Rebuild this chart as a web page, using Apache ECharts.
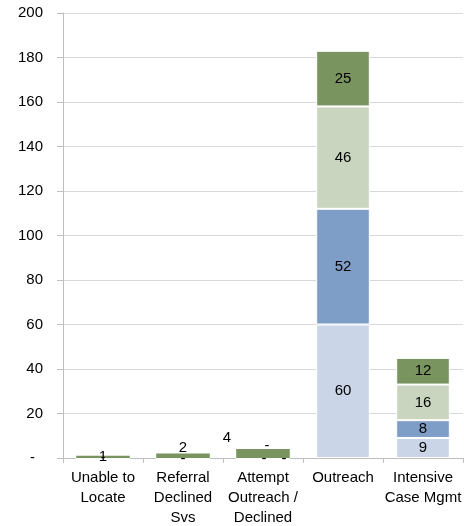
<!DOCTYPE html>
<html>
<head>
<meta charset="utf-8">
<style>
html,body{margin:0;padding:0;background:#fff;}
#chart{width:464px;height:526px;}
</style>
<script src="https://cdn.jsdelivr.net/npm/echarts@6/dist/echarts.min.js"></script>
</head>
<body>
<div id="chart"></div>
<script>
var categories = ['Unable to\nLocate', 'Referral\nDeclined\nSvs', 'Attempt\nOutreach /\nDeclined', 'Outreach', 'Intensive\nCase Mgmt'];
var seriesA = [0, 0, 0, 60, 9];
var seriesB = [0, 0, 0, 52, 8];
var seriesC = [0, 0, 0, 46, 16];
var seriesD = [1, 2, 4, 25, 12];
var yMin = 0, yMax = 200, yInterval = 20;

var colors = ['#cad6e8', '#7f9ec7', '#c9d5bf', '#7a9460'];
var allSeries = [seriesA, seriesB, seriesC, seriesD];
var FONT = 'Liberation Sans, Arial, sans-serif';

// label placement tweaks for the crowded small bars: [seriesIndex]-[categoryIndex]
var labelTweaks = {
  '0-0': {show: true, offset: [0, 0]},
  '3-0': {show: true, offset: [0, 0]},
  '0-1': {show: true, offset: [0, 1]},
  '3-1': {show: true, offset: [0, -8]},
  '0-2': {show: true, offset: [1, 1]},
  '1-2': {show: true, offset: [21, 1]},
  '2-2': {show: true, offset: [4, -12]},
  '3-2': {show: true, offset: [-36, -16]}
};

var series = allSeries.map(function (vals, si) {
  return {
    type: 'bar',
    stack: 'total',
    barCategoryGap: '33%',
    itemStyle: {color: colors[si], borderColor: '#ffffff', borderWidth: 1},
    label: {
      show: true,
      position: 'inside',
      color: '#000',
      fontSize: 15,
      fontFamily: FONT,
      formatter: function (p) { return p.value === 0 ? '-' : String(p.value); }
    },
    data: vals.map(function (v, ci) {
      var t = labelTweaks[si + '-' + ci];
      var item = {value: v};
      if (t) {
        item.label = {show: t.show, offset: t.offset};
      } else if (v === 0) {
        item.label = {show: false};
      }
      if (v > 0 && v < 5) {
        item.itemStyle = {borderWidth: 0};
      }
      return item;
    })
  };
});

var chart = echarts.init(document.getElementById('chart'));
chart.setOption({
  animation: false,
  grid: {left: 63, right: 1, top: 13, bottom: 68, containLabel: false, outerBoundsMode: 'none'},
  xAxis: {
    type: 'category',
    data: categories,
    axisLine: {lineStyle: {color: '#bfbfbf', width: 1}},
    axisTick: {show: true, alignWithLabel: false, length: 5, lineStyle: {color: '#bfbfbf'}},
    axisLabel: {color: '#000', fontSize: 15, lineHeight: 20, margin: 10, interval: 0, fontFamily: FONT}
  },
  yAxis: {
    type: 'value',
    min: yMin, max: yMax, interval: yInterval,
    axisLine: {show: true, lineStyle: {color: '#bfbfbf', width: 1}},
    axisTick: {show: true, length: 6, lineStyle: {color: '#bfbfbf'}},
    splitLine: {show: true, lineStyle: {color: '#d9d9d9', width: 1}},
    axisLabel: {
      color: '#000', fontSize: 15, margin: 20, fontFamily: FONT,
      formatter: function (v) { return v === 0 ? '{d|-}' : String(v); },
      rich: {d: {color: '#000', fontSize: 15, fontFamily: FONT, padding: [0, 8, 0, 0]}}
    }
  },
  series: series
});
</script>
</body>
</html>
